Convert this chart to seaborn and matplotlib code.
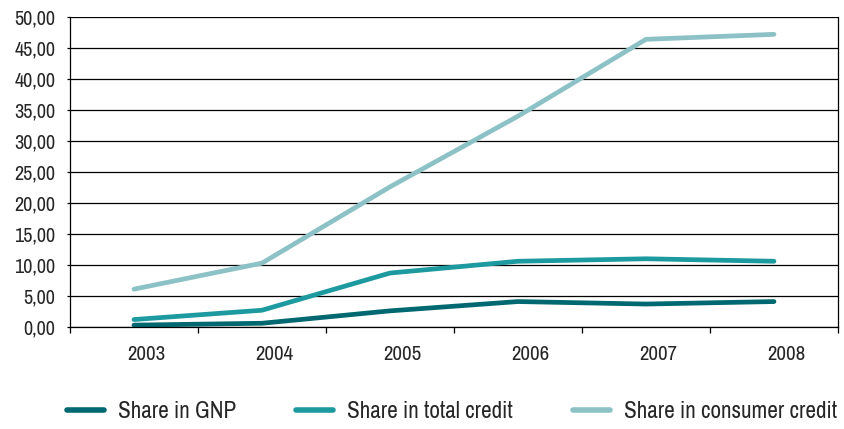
import numpy as np
import pandas as pd
import matplotlib
matplotlib.use("Agg")
import matplotlib.pyplot as plt
import seaborn as sns
from matplotlib.ticker import FixedLocator, FuncFormatter

years = ["2003", "2004", "2005", "2006", "2007", "2008"]
share_gnp = [0.3, 0.6, 2.6, 4.1, 3.7, 4.1]
share_total_credit = [1.2, 2.7, 8.7, 10.6, 11.0, 10.6]
share_consumer_credit = [6.1, 10.3, 22.6, 34.0, 46.4, 47.2]
series_names = ["Share in GNP", "Share in total credit", "Share in consumer credit"]
colors = ["#006870", "#1C9AA0", "#8CC1C5"]

sns.set_theme(style="white")
FONT = ["Archivo Narrow", "Liberation Sans", "DejaVu Sans"]
plt.rcParams["font.family"] = FONT

rows = []
for name, vals in zip(series_names, [share_gnp, share_total_credit, share_consumer_credit]):
    for i, (y, v) in enumerate(zip(years, vals)):
        rows.append({"pos": i, "year": y, "value": v, "series": name})
df = pd.DataFrame(rows)

fig = plt.figure(figsize=(8.45, 4.29), dpi=100)
ax = fig.add_axes([0.0828, 0.2378, 0.9089, 0.7226])

sns.lineplot(data=df, x="pos", y="value", hue="series", hue_order=series_names,
             palette=colors, linewidth=3.4, ax=ax, legend=True,
             solid_capstyle="round", solid_joinstyle="round")

ax.set_xlim(-0.5, 5.5)
ax.set_ylim(0, 50)
ax.set_yticks(np.arange(0, 50.1, 5))
ax.yaxis.set_major_formatter(FuncFormatter(lambda v, p: f"{v:.2f}".replace(".", ",")))
ax.grid(axis="y", color="black", linewidth=0.9)
ax.set_axisbelow(True)

ax.xaxis.set_major_locator(FixedLocator(np.arange(-0.5, 5.6, 1)))
# category labels sit slightly right of the category centres, as in the reference
ax.xaxis.set_minor_locator(FixedLocator(np.arange(len(years)) + 0.1))
ax.set_xticklabels([""] * 7)
ax.set_xticklabels(years, minor=True, fontsize=15)
ax.tick_params(axis="x", which="major", direction="out", length=4, width=0.9, color="black", bottom=True)
ax.tick_params(axis="x", which="minor", length=0, pad=13)
ax.tick_params(axis="y", direction="out", length=2.5, width=0.9, color="black", left=True, labelsize=14.5, pad=8)
ax.set_xlabel("")
ax.set_ylabel("")

for s in ["left", "bottom", "right"]:
    ax.spines[s].set_visible(True)
    ax.spines[s].set_color("black")
    ax.spines[s].set_linewidth(0.9)
ax.spines["top"].set_visible(False)

ax.get_legend().remove()
handles, labels = ax.get_legend_handles_labels()
leg = fig.legend(handles, labels, loc="center", bbox_to_anchor=(0.535, 0.04), ncol=3,
                 frameon=False, handlelength=1.6, columnspacing=2.6, handletextpad=0.6,
                 prop={"size": 16.7})
for lh in leg.get_lines():
    lh.set_linewidth(4)
    lh.set_solid_capstyle("round")

fig.savefig("out.png", dpi=100)
